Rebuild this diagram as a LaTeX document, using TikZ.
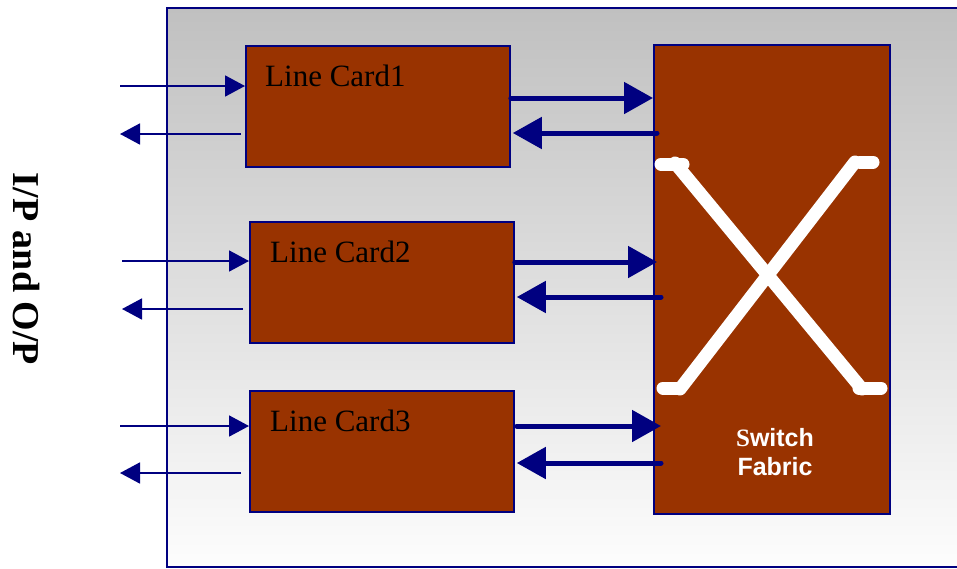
\documentclass[tikz,border=0pt]{standalone}
\usepackage{fontspec}
\setmainfont{Liberation Serif}
\setsansfont{Liberation Sans}
\usetikzlibrary{arrows.meta,calc}
\definecolor{navyline}{RGB}{0,0,128}
\definecolor{cardfill}{RGB}{153,51,0}
\definecolor{panelgray}{RGB}{192,192,192}
\definecolor{panelwhite}{RGB}{253,253,253}

\begin{document}
\begin{tikzpicture}[x=1pt,y=-1pt,
  card/.style={draw=navyline, line width=1.8pt, fill=cardfill, anchor=north west,
    inner sep=0pt, minimum width=264pt, minimum height=121pt},
  cardtext/.style={anchor=base west, inner sep=0pt, font=\fontsize{31}{36}\selectfont},
  fabrictext/.style={anchor=base, inner sep=0pt, text=white,
    font=\sffamily\bfseries\fontsize{25}{29}\selectfont},
  io/.style={draw=navyline, line width=1.8pt, -{Triangle[length=20pt,width=21pt]}},
  bus/.style={draw=navyline, line width=5pt, line cap=round,
    -{Triangle[length=29pt,width=31pt]}},
  crossbar/.style={draw=white, line width=13pt, line cap=round, line join=round}]

\useasboundingbox (0,0) rectangle (957,568);

% router chassis with its vertical grey-to-white gradient
\shade[top color=panelgray, bottom color=panelwhite] (167,8) rectangle (960,567);
\draw[navyline, line width=1.5pt] (960,8) -- (167,8) -- (167,567) -- (960,567);

% side caption
\node[rotate=-90, anchor=base, inner sep=0pt,
  font=\bfseries\fontsize{38}{40}\selectfont] (iolabel) at (13,269) {I/P and O/P};

% line cards and switch fabric
\node[card] (lc1) at (245,45) {};
\node[card] (lc2) at (249,221) {};
\node[card] (lc3) at (249,390) {};
\node[draw=navyline, line width=1.8pt, fill=cardfill, anchor=north west, inner sep=0pt,
  minimum width=236pt, minimum height=469pt] (sf) at (653,44) {};

\node[cardtext] (lc1t) at (265,86) {Line Card1};
\node[cardtext] (lc2t) at (270,262) {Line Card2};
\node[cardtext] (lc3t) at (270,431) {Line Card3};

% crossbar symbol inside the fabric
\draw[crossbar] (661,164) -- (683,164);
\draw[crossbar] (675,163) -- (862,389);
\draw[crossbar] (859,388) -- (881,388);
\draw[crossbar] (860,162) -- (873,162);
\draw[crossbar] (855,162) -- (680,389);
\draw[crossbar] (663,388) -- (676,388);

\node[fabrictext] (sfa) at (775,446) {{\rmfamily S}witch};
\node[fabrictext] (sfb) at (775,475) {Fabric};

% external input / output ports
\coordinate (in1) at (120,86);
\coordinate (out1) at (120,134);
\coordinate (in2) at (122,261);
\coordinate (out2) at (122,309);
\coordinate (in3) at (120,426);
\coordinate (out3) at (120,473);

\draw[io] (in1) -- (in1 -| lc1.west);
\draw[io] ($(out1 -| lc1.west)+(-4,0)$) -- (out1);
\draw[io] (in2) -- (in2 -| lc2.west);
\draw[io] ($(out2 -| lc2.west)+(-6,0)$) -- (out2);
\draw[io] (in3) -- (in3 -| lc3.west);
\draw[io] ($(out3 -| lc3.west)+(-8,0)$) -- (out3);

% links between line cards and the switch fabric
\coordinate (up1) at (0,98);
\coordinate (dn1) at (0,133);
\coordinate (up2) at (0,262);
\coordinate (dn2) at (0,297);
\coordinate (up3) at (0,426);
\coordinate (dn3) at (0,463);

\draw[bus] (lc1.east |- up1) -- (sf.west |- up1);
\draw[bus] ($(sf.west |- dn1)+(4,0)$) -- ($(lc1.east |- dn1)+(2,0)$);
\draw[bus] (lc2.east |- up2) -- ($(sf.west |- up2)+(4,0)$);
\draw[bus] ($(sf.west |- dn2)+(8,0)$) -- ($(lc2.east |- dn2)+(2,0)$);
\draw[bus] ($(lc3.east |- up3)+(2,0)$) -- ($(sf.west |- up3)+(8,0)$);
\draw[bus] ($(sf.west |- dn3)+(8,0)$) -- ($(lc3.east |- dn3)+(2,0)$);
\end{tikzpicture}
\end{document}
